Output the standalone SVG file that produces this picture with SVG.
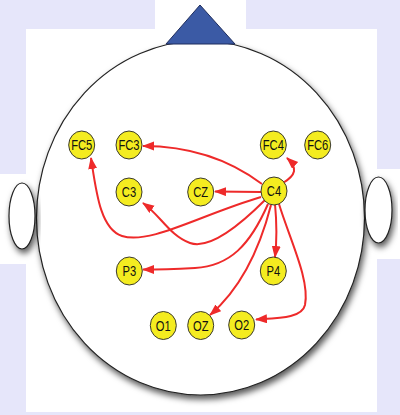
<svg xmlns="http://www.w3.org/2000/svg" width="400" height="415" viewBox="0 0 400 415">
<defs>
<filter id="sh" x="-20%" y="-20%" width="140%" height="140%">
<feDropShadow dx="2" dy="4" stdDeviation="3" flood-color="#000" flood-opacity="0.65"/>
</filter>
<marker id="ah" markerUnits="userSpaceOnUse" markerWidth="12" markerHeight="10" refX="11" refY="4.5" orient="auto">
<path d="M0,0 L12,4.5 L0,9 z" fill="#ee2a2a"/>
</marker>
<style>
.bg{fill:#e6e6fa}
.wh{fill:#fff}
.head{fill:#fff;stroke:#222;stroke-width:1.2;filter:url(#sh)}
.nose{fill:#3b5aa5;stroke:#1f2d5c;stroke-width:1}
.el{fill:#f4ec20;stroke:#3a3a30;stroke-width:1}
.lb{font-family:"Liberation Sans",Arial,sans-serif;font-size:14px;fill:#111;text-anchor:middle}
.ar{fill:none;stroke:#ee2a2a;stroke-width:2;marker-end:url(#ah)}
</style>
</defs>
<rect class="bg" x="0" y="0" width="400" height="415"/>
<rect class="wh" x="26" y="29" width="351" height="383"/>
<rect class="wh" x="155" y="0" width="91" height="30"/>
<rect class="wh" x="0" y="174" width="27" height="90"/>
<rect class="wh" x="376" y="169" width="24" height="90"/>
<g id="head">
<ellipse class="head" cx="200.5" cy="218" rx="164" ry="177"/>
</g>
<g id="left-ear"><ellipse class="head" cx="22" cy="216" rx="13" ry="33"/></g>
<g id="right-ear"><ellipse class="head" cx="378.5" cy="210" rx="13.5" ry="33"/></g>
<g id="nose"><polygon class="nose" points="200,5 235,44 166,44"/></g>
<g id="connectors">
<path class="ar" d="M262,184 C230,160 190,146 143,146"/>
<path class="ar" d="M283,183 C296,175 298,168 287,158"/>
<path class="ar" d="M261,192 L215,191.5"/>
<path class="ar" d="M261,197 C200,215 150,245 122,236 C100,229 96,190 91,158"/>
<path class="ar" d="M265,200 C240,225 210,250 190,243 C170,236 160,215 143,203"/>
<path class="ar" d="M268,204 C250,245 230,266 195,268 C175,269 160,269.5 143,269.5"/>
<path class="ar" d="M271,205 C262,240 245,285 210,315"/>
<path class="ar" d="M275,204 C277,225 277,240 275,257"/>
<path class="ar" d="M279,204 C290,240 310,280 305,305 C302,318 280,318 256,319.5"/>
</g>
<g id="FC5" transform="translate(81.7,145)"><ellipse class="el" rx="13" ry="14"/><text class="lb" y="5" transform="scale(0.8,1)">FC5</text></g>
<g id="FC3" transform="translate(129,145)"><ellipse class="el" rx="13" ry="14"/><text class="lb" y="5" transform="scale(0.8,1)">FC3</text></g>
<g id="FC4" transform="translate(273.3,145)"><ellipse class="el" rx="13" ry="14"/><text class="lb" y="5" transform="scale(0.8,1)">FC4</text></g>
<g id="FC6" transform="translate(317.7,145)"><ellipse class="el" rx="13" ry="14"/><text class="lb" y="5" transform="scale(0.8,1)">FC6</text></g>
<g id="C3" transform="translate(129,192)"><ellipse class="el" rx="13" ry="14"/><text class="lb" y="5" transform="scale(0.8,1)">C3</text></g>
<g id="CZ" transform="translate(200.7,192)"><ellipse class="el" rx="13" ry="14"/><text class="lb" y="5" transform="scale(0.8,1)">CZ</text></g>
<g id="C4" transform="translate(274,191)"><ellipse class="el" rx="13" ry="14"/><text class="lb" y="5" transform="scale(0.8,1)">C4</text></g>
<g id="P3" transform="translate(129.3,271)"><ellipse class="el" rx="13" ry="14"/><text class="lb" y="5" transform="scale(0.8,1)">P3</text></g>
<g id="P4" transform="translate(273.3,271)"><ellipse class="el" rx="13" ry="14"/><text class="lb" y="5" transform="scale(0.8,1)">P4</text></g>
<g id="O1" transform="translate(163.3,325.5)"><ellipse class="el" rx="13" ry="14"/><text class="lb" y="5" transform="scale(0.8,1)">O1</text></g>
<g id="OZ" transform="translate(200.7,325.5)"><ellipse class="el" rx="13" ry="14"/><text class="lb" y="5" transform="scale(0.8,1)">OZ</text></g>
<g id="O2" transform="translate(241.7,325)"><ellipse class="el" rx="13" ry="14"/><text class="lb" y="5" transform="scale(0.8,1)">O2</text></g>
</svg>
